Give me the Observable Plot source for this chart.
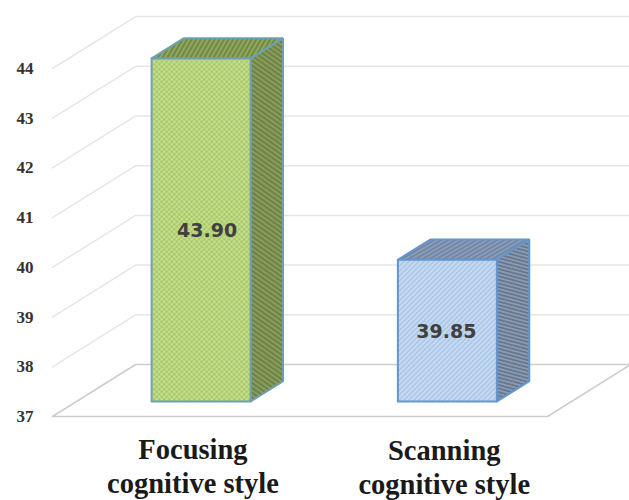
<!DOCTYPE html>
<html>
<head>
<meta charset="utf-8">
<script src="https://cdn.jsdelivr.net/npm/d3@7"></script>
<script src="https://cdn.jsdelivr.net/npm/@observablehq/plot@0.6"></script>
<style>
  html, body { margin: 0; padding: 0; background: #fff; }
  svg { display: block; }
</style>
</head>
<body>
<div id="chart"></div>
<script>
// Cognitive style scores
const categories = ["Focusing\ncognitive style", "Scanning\ncognitive style"];
const values = [43.90, 39.85];
const bandCentres = [0.2515, 0.749];
const yTicks = [37, 38, 39, 40, 41, 42, 43, 44];

// Oblique box geometry, in data units
const barWidth = 0.2;
const depthShiftX = 0.168; // horizontal shift of the floor from front to back
const depthShiftY = 1.045; // vertical shift of the floor from front to back
const barDepth = [0.29, 0.68];

// Project (across, value, depth) to the two plotted coordinates
const px = (x, d) => x + d * depthShiftX;
const py = (v, d) => v + d * depthShiftY;
const pt = (x, v, d) => ({x: px(x, d), y: py(v, d)});

const gridLines = yTicks.slice(1).map(v => [pt(0, v, 0), pt(0, v, 1), pt(1, v, 1)]);
const floor = [pt(0, 37, 0), pt(1, 37, 0), pt(1, 37, 1), pt(0, 37, 1), pt(0, 37, 0)];

function box(i) {
  const x0 = bandCentres[i] - barWidth / 2, x1 = bandCentres[i] + barWidth / 2;
  const [d0, d1] = barDepth, v = values[i], b = yTicks[0];
  return {
    front: [pt(x0, b, d0), pt(x1, b, d0), pt(x1, v, d0), pt(x0, v, d0), pt(x0, b, d0)],
    side: [pt(x1, b, d0), pt(x1, b, d1), pt(x1, v, d1), pt(x1, v, d0), pt(x1, b, d0)],
    top: [pt(x0, v, d0), pt(x1, v, d0), pt(x1, v, d1), pt(x0, v, d1), pt(x0, v, d0)]
  };
}

// Hatch and check fills for the box faces
function patternDefs() {
  const ns = "http://www.w3.org/2000/svg";
  const defs = document.createElementNS(ns, "defs");
  const add = (id, size, angle, bg, fg, shape) => {
    const p = document.createElementNS(ns, "pattern");
    p.setAttribute("id", id);
    p.setAttribute("patternUnits", "userSpaceOnUse");
    p.setAttribute("width", size);
    p.setAttribute("height", size);
    p.setAttribute("patternTransform", `rotate(${angle})`);
    p.innerHTML = `<rect width="${size}" height="${size}" fill="${bg}"/>` + shape(fg, size);
    defs.appendChild(p);
  };
  const stripes = (fg, s) => `<rect width="${s}" height="${s / 2}" fill="${fg}"/>`;
  const checks = (fg, s) => `<rect width="${s / 2}" height="${s / 2}" fill="${fg}"/><rect x="${s / 2}" y="${s / 2}" width="${s / 2}" height="${s / 2}" fill="${fg}"/>`;
  add("greenFront", 5, 0, "#cbe095", "#a4c660", checks);
  add("greenSide", 4, 35, "#8a9d58", "#6d8249", stripes);
  add("greenTop", 4, -60, "#90a65a", "#6f8a48", stripes);
  add("blueFront", 3.5, -45, "#c6daf3", "#aec8e8", stripes);
  add("blueSide", 3.5, 15, "#8a9ab0", "#66788f", stripes);
  add("blueTop", 3.5, -30, "#8a9cb6", "#7187a4", stripes);
  return defs;
}

const faceFills = [
  {front: "url(#greenFront)", side: "url(#greenSide)", top: "url(#greenTop)", stroke: "#6f9fb4"},
  {front: "url(#blueFront)", side: "url(#blueSide)", top: "url(#blueTop)", stroke: "#6495cd"}
];

const face = (pts, fill, stroke) => Plot.line(pts, {
  x: "x", y: "y", fill, stroke, strokeWidth: 2, strokeLinejoin: "miter", curve: "linear"
});

const boxMarks = values.flatMap((v, i) => {
  const b = box(i), f = faceFills[i];
  return [face(b.side, f.side, f.stroke), face(b.top, f.top, f.stroke), face(b.front, f.front, f.stroke)];
});

const serif = "'Liberation Serif', 'Times New Roman', serif";

const valueLabel = (i, dx) => Plot.text([values[i]], {
  x: px(bandCentres[i], barDepth[0]),
  y: py((yTicks[0] + values[i]) / 2, barDepth[0]),
  dx,
  dy: 1,
  text: v => v.toFixed(2),
  fontFamily: "'DejaVu Sans', sans-serif",
  fontWeight: "bold",
  fontSize: 19,
  fill: "#404040"
});

const categoryLabel = (i, dx, dy) => Plot.text([categories[i]], {
  x: bandCentres[i],
  y: yTicks[0],
  dx,
  dy,
  text: d => d,
  fontFamily: serif,
  fontWeight: "bold",
  fontSize: 28.5,
  lineHeight: 1.2,
  fill: "#1a1a1a"
});

const chart = Plot.plot({
  width: 629,
  height: 500,
  marginLeft: 33,
  marginRight: 0,
  marginTop: 0,
  marginBottom: 0,
  style: {background: "#fff"},
  x: {domain: [0, 1], range: [52, 547], axis: null},
  y: {domain: [37, 44], range: [416, 68], axis: null},
  marks: [
    patternDefs,
    ...gridLines.map(g => Plot.line(g, {x: "x", y: "y", stroke: "#e6e6e6", strokeWidth: 1.5, curve: "linear"})),
    Plot.line(floor, {x: "x", y: "y", stroke: "#cdcdcd", strokeWidth: 1.6, curve: "linear"}),
    Plot.axisY({
      ticks: yTicks, tickSize: 0, tickPadding: 0, label: null, tickFormat: d3.format("d"),
      fontFamily: serif, fontWeight: "bold", fontSize: 17, fill: "#333"
    }),
    ...boxMarks,
    valueLabel(0, 6),
    valueLabel(1, -1),
    categoryLabel(0, 16, 48.5),
    categoryLabel(1, 21, 49.5)
  ]
});
document.getElementById("chart").appendChild(chart);
</script>
</body>
</html>
